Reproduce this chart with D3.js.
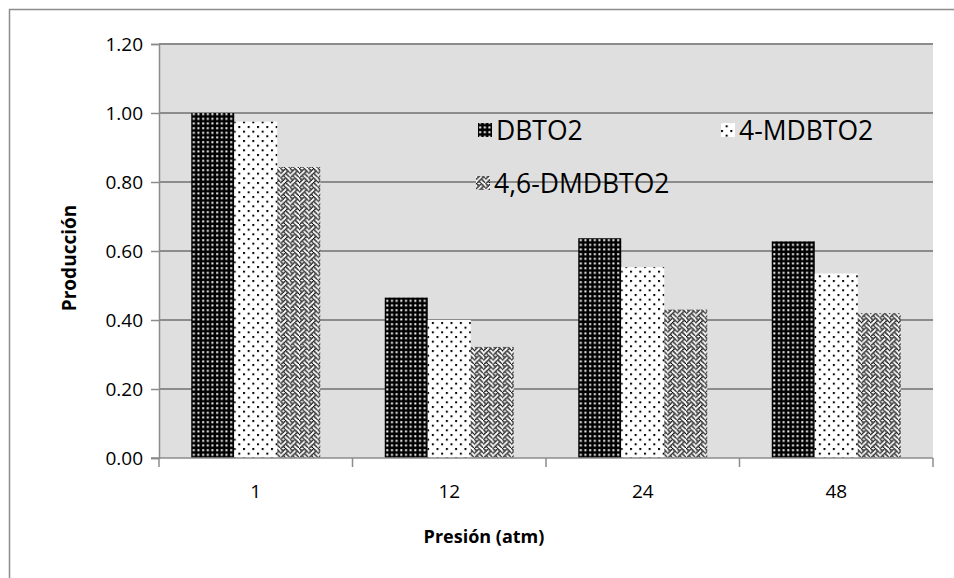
<!DOCTYPE html>
<html><head><meta charset="utf-8">
<script src="https://cdn.jsdelivr.net/npm/d3@7"></script>
<style>body{margin:0;background:#fff;} text{font-family:"Open Sans","Noto Sans",sans-serif;}</style>
</head><body>
<svg id="c" width="954" height="578"></svg>
<script>
const categories = ["1", "12", "24", "48"];
const seriesNames = ["DBTO2", "4-MDBTO2", "4,6-DMDBTO2"];
const DBTO2 = [1.00, 0.465, 0.637, 0.628];
const MDBTO2 = [0.975, 0.400, 0.553, 0.535];
const DMDBTO2 = [0.843, 0.322, 0.430, 0.420];
const yTicks = [0, 0.2, 0.4, 0.6, 0.8, 1.0, 1.2];
const seriesValues = [DBTO2, MDBTO2, DMDBTO2];

const svg = d3.select("#c");
const m = {l:159, r:933, t:44, b:458};
const defs = svg.append("defs");
const s = 7/6;

// pattern 1: black with white squares
const p1 = defs.append("pattern").attr("id","p0").attr("patternUnits","userSpaceOnUse")
  .attr("width",4).attr("height",4).attr("patternTransform",`scale(${s})`);
p1.append("rect").attr("width",4).attr("height",4).attr("fill","#000");
p1.append("rect").attr("x",1).attr("y",1).attr("width",1.7).attr("height",1.7).attr("fill","#fff");
// pattern 2: white with sparse dots
const p2 = defs.append("pattern").attr("id","p1").attr("patternUnits","userSpaceOnUse")
  .attr("width",8).attr("height",8).attr("patternTransform",`scale(${s})`);
p2.append("rect").attr("width",8).attr("height",8).attr("fill","#fff");
p2.append("rect").attr("x",0).attr("y",0).attr("width",1.7).attr("height",1.7).attr("fill","#000");
p2.append("rect").attr("x",4).attr("y",4).attr("width",1.7).attr("height",1.7).attr("fill","#000");
// pattern 3: weave
const weave = [0x88,0x54,0x22,0x45,0x88,0x14,0x22,0x51];
const p3 = defs.append("pattern").attr("id","p2").attr("patternUnits","userSpaceOnUse")
  .attr("width",8).attr("height",8).attr("patternTransform",`scale(${s})`);
p3.append("rect").attr("width",8).attr("height",8).attr("fill","#fff");
weave.forEach((b,row)=>{ for(let c=0;c<8;c++){ if(b & (0x80>>c)) p3.append("rect").attr("x",c-0.1).attr("y",row-0.1).attr("width",1.25).attr("height",1.25).attr("fill","#000"); }});

// outer border
svg.append("path").attr("d","M9.5,578 V9.5 H954").attr("fill","none").attr("stroke","#8c8c8c").attr("stroke-width",1.5);

const x0 = d3.scaleBand().domain(categories).range([m.l,m.r]).paddingInner(0).paddingOuter(0);
const x1 = d3.scaleBand().domain(seriesNames)
  .range([x0.bandwidth()/2-64.5, x0.bandwidth()/2+64.5]).paddingInner(0).paddingOuter(0);
const y = d3.scaleLinear().domain([0,1.2]).range([m.b,m.t]);

svg.append("rect").attr("x",m.l).attr("y",m.t).attr("width",m.r-m.l).attr("height",m.b-m.t).attr("fill","#dfdfdf");

svg.append("g").selectAll("line").data(yTicks.slice(1)).join("line")
  .attr("x1",m.l).attr("x2",m.r).attr("y1",d=>y(d)).attr("y2",d=>y(d))
  .attr("stroke","#8c8c8c").attr("stroke-width",2);

const gg = svg.append("g").selectAll("g").data(categories).join("g")
  .attr("transform",d=>`translate(${x0(d)},0)`);
gg.selectAll("rect").data((d,i)=>seriesNames.map((n,j)=>({n,j,v:seriesValues[j][i]}))).join("rect")
  .attr("x",d=>x1(d.n)).attr("width",x1.bandwidth())
  .attr("y",d=>y(d.v)).attr("height",d=>m.b-y(d.v))
  .attr("fill",d=>`url(#p${d.j})`);

// y axis
const ya = d3.axisLeft(y).tickValues(yTicks).tickFormat(d3.format(".2f")).tickSize(8).tickPadding(8);
const yg = svg.append("g").attr("transform",`translate(${m.l},0)`).call(ya);
yg.selectAll("path,line").attr("stroke","#8c8c8c").attr("stroke-width",1.5);
yg.selectAll("text").attr("font-size",19).attr("fill","#000").attr("font-family","Open Sans");

// x axis
const xg = svg.append("g").attr("transform",`translate(0,${m.b})`);
xg.append("line").attr("x1",m.l-8).attr("x2",m.r).attr("stroke","#8c8c8c").attr("stroke-width",1.5);
xg.selectAll("line.t").data(d3.range(categories.length+1)).join("line").attr("class","t")
  .attr("x1",i=>m.l+i*x0.bandwidth()).attr("x2",i=>m.l+i*x0.bandwidth()).attr("y1",0).attr("y2",9)
  .attr("stroke","#8c8c8c").attr("stroke-width",1.5);
xg.selectAll("text").data(categories).join("text")
  .attr("x",d=>x0(d)+x0.bandwidth()/2).attr("y",40).attr("text-anchor","middle")
  .attr("font-size",19).text(d=>d);

svg.append("text").attr("x",484).attr("y",543).attr("text-anchor","middle")
  .attr("font-size",18).attr("font-weight","bold").text("Presión (atm)");
svg.append("text").attr("transform","translate(76,258) rotate(-90)").attr("text-anchor","middle")
  .attr("font-size",19).attr("font-weight","bold").text("Producción");

// legend
const leg = [{x:478,y:130},{x:721,y:130},{x:476,y:183}];
seriesNames.forEach((n,j)=>{
  const g = svg.append("g").attr("transform",`translate(${leg[j].x},${leg[j].y})`);
  g.append("rect").attr("x",0).attr("y",-7).attr("width",14).attr("height",14).attr("fill",`url(#p${j})`);
  g.append("text").attr("x",18).attr("y",10).attr("font-size",26.5).text(n);
});
</script>
</body></html>
